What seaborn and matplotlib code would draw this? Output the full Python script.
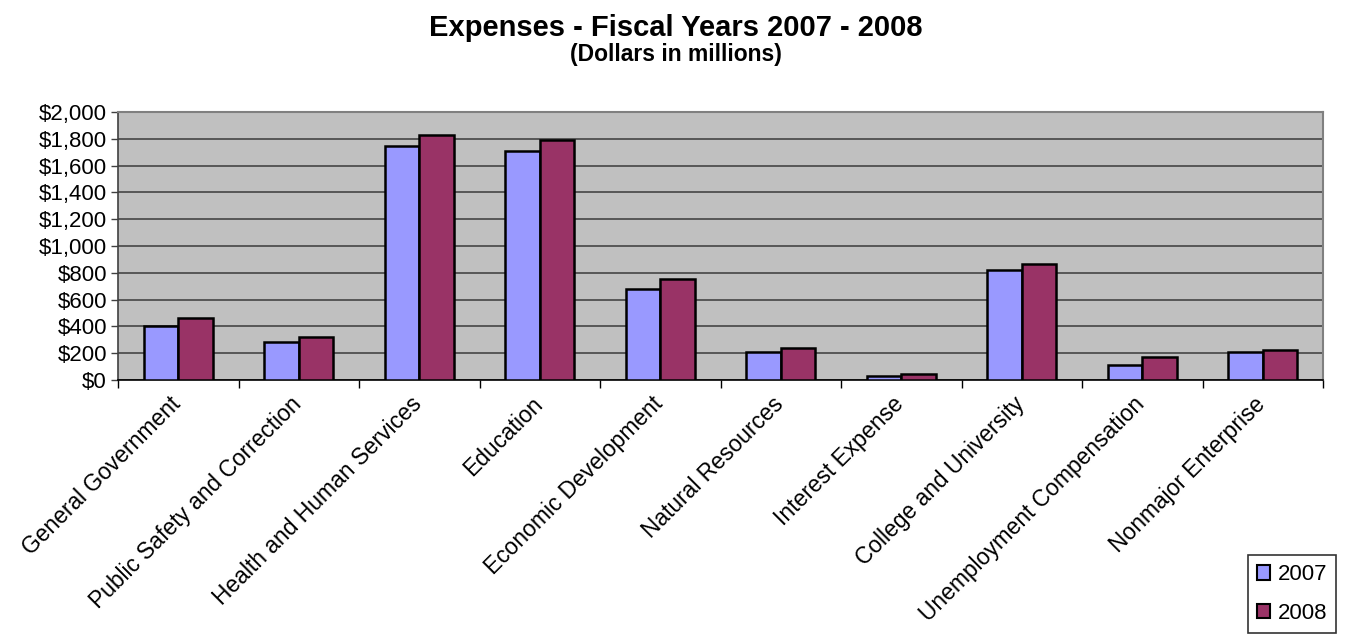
import numpy as np
import pandas as pd
import seaborn as sns
import matplotlib
matplotlib.use("Agg")
import matplotlib.pyplot as plt
import matplotlib.transforms as mtransforms
from matplotlib.ticker import StrMethodFormatter, FixedLocator
from matplotlib.patches import Patch

categories = [
    "General Government",
    "Public Safety and Correction",
    "Health and Human Services",
    "Education",
    "Economic Development",
    "Natural Resources",
    "Interest Expense",
    "College and University",
    "Unemployment Compensation",
    "Nonmajor Enterprise",
]
years = ["2007", "2008"]
exp_2007 = [400, 287, 1743, 1710, 677, 207, 30, 819, 112, 207]
exp_2008 = [464, 320, 1825, 1790, 757, 240, 45, 869, 175, 225]
colors = {"2007": "#9999FF", "2008": "#993366"}

df = pd.DataFrame({
    "category": categories * 2,
    "year": ["2007"] * len(categories) + ["2008"] * len(categories),
    "value": exp_2007 + exp_2008,
})

sns.set_style("white")
plt.rcParams["font.family"] = ["Liberation Sans", "DejaVu Sans"]
plt.rcParams["text.color"] = "black"
plt.rcParams["xtick.color"] = "black"
plt.rcParams["ytick.color"] = "black"

fig = plt.figure(figsize=(13.51, 6.35), dpi=100)
ax = fig.add_axes([118 / 1351, 1 - 380 / 635, 1205 / 1351, 268 / 635])

sns.barplot(data=df, x="category", y="value", hue="year", order=categories,
            hue_order=years, palette=colors, width=0.57, gap=0,
            edgecolor="black", linewidth=1.8, saturation=1, ax=ax, zorder=3)

ax.set_facecolor("#C0C0C0")
ax.set_ylim(0, 2000)
ax.set_xlim(-0.5, len(categories) - 0.5)
ax.yaxis.set_major_locator(FixedLocator(np.arange(0, 2001, 200)))
ax.yaxis.set_major_formatter(StrMethodFormatter("${x:,.0f}"))
ax.grid(axis="y", color="#3a3a3a", linewidth=1.1, zorder=0)
ax.set_axisbelow(True)
ax.set_xlabel("")
ax.set_ylabel("")

ax.tick_params(axis="y", left=True, length=5, width=1, color="#404040",
               labelsize=16, pad=3)
ax.tick_params(axis="x", which="major", length=0, labelsize=16.4, pad=9)
ax.set_xticks(np.arange(-0.5, len(categories)), minor=True)
ax.tick_params(axis="x", which="minor", bottom=True, length=6, width=1,
               color="black")
shift = mtransforms.ScaledTranslation(-9 / 100, 0, fig.dpi_scale_trans)
for lbl in ax.get_xticklabels():
    lbl.set_rotation(45)
    lbl.set_ha("right")
    lbl.set_va("top")
    lbl.set_rotation_mode("anchor")
    lbl.set_transform(lbl.get_transform() + shift)

for side in ["top", "right"]:
    ax.spines[side].set_color("#808080")
    ax.spines[side].set_linewidth(1.5)
ax.spines["left"].set_color("#404040")
ax.spines["left"].set_linewidth(1.2)
ax.spines["bottom"].set_color("black")
ax.spines["bottom"].set_linewidth(1.2)

ax.get_legend().remove()
handles = [Patch(facecolor=colors[y], edgecolor="black", linewidth=1.5, label=y)
           for y in years]
leg = fig.legend(handles=handles, loc="lower right",
                 bbox_to_anchor=(1336 / 1351, 1 - 633 / 635),
                 fontsize=16, frameon=True, fancybox=False,
                 handlelength=0.6, handleheight=0.6, handletextpad=0.35,
                 labelspacing=0.8, borderpad=0.4, borderaxespad=0)
leg.get_frame().set_edgecolor("black")
leg.get_frame().set_linewidth(1.2)

fig.text(0.5, 1 - 28 / 635, "Expenses - Fiscal Years 2007 - 2008",
         ha="center", va="center", fontsize=21, fontweight="bold")
fig.text(0.5, 1 - 55 / 635, "(Dollars in millions)",
         ha="center", va="center", fontsize=16.5, fontweight="bold")

fig.savefig("out.png", dpi=100, facecolor="white")
